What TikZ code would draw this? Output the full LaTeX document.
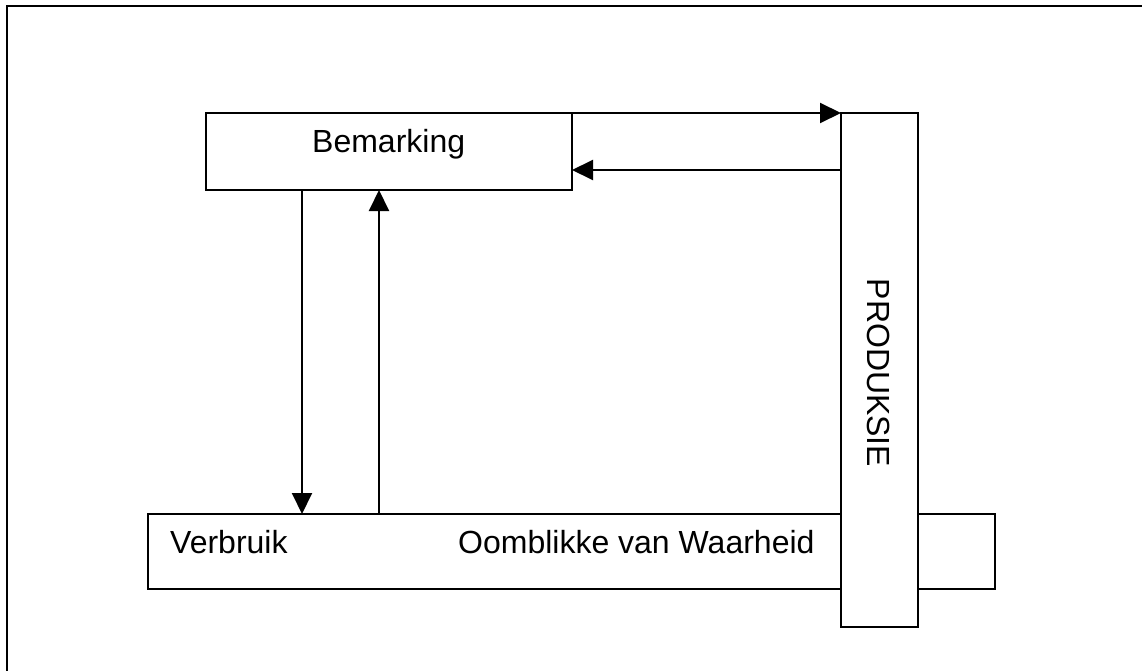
\documentclass[tikz,border=0pt]{standalone}
\usepackage{fontspec}
\setmainfont{Liberation Sans}
\usetikzlibrary{arrows.meta,calc}
\begin{document}
\begin{tikzpicture}[x=1pt,y=-1pt,
  box/.style={draw,line width=2pt,fill=white,outer sep=0pt,inner sep=0pt},
  arr/.style={line width=2pt,-{Triangle[length=21pt,width=20pt]}},
  lbl/.style={inner sep=0pt,font=\fontsize{32}{38}\selectfont}]
\useasboundingbox (0,0) rectangle (1142,671);
% partial frame
\coordinate (f1) at (7,6);
\coordinate (f0) at (7,671);
\coordinate (f2) at (1142,6);
\draw[line width=2.5pt] (f0) -- (f1) -- (f2);
% boxes
\node[box,minimum width=366pt,minimum height=77pt] (bem) at (389,151.5) {};
\node[box,minimum width=847pt,minimum height=75pt] (bot) at (571.5,551.5) {};
\node[box,minimum width=77pt,minimum height=514pt] (prod) at (879.5,370) {};
% labels
\node[lbl,anchor=base west] (tbem) at (312,153) {Bemarking};
\node[lbl,anchor=base west] (tver) at (170,553) {Verbruik};
\node[lbl,anchor=base west] (toom) at (458,553) {Oomblikke van Waarheid};
\node[lbl,rotate=-90] (tprod) at (879,373) {PRODUKSIE};
% connectors
\draw[arr] (bem.north east) -- (prod.north west);
\path (prod.north west) ++(0,57) coordinate (r1);
\draw[arr] (r1) -- (r1 -| bem.east);
\path (bem.south west) ++(96,0) coordinate (d1);
\draw[arr] (d1) -- (d1 |- bot.north);
\path (bem.south west) ++(173,0) coordinate (u1);
\draw[arr] (u1 |- bot.north) -- (u1);
\end{tikzpicture}
\end{document}
